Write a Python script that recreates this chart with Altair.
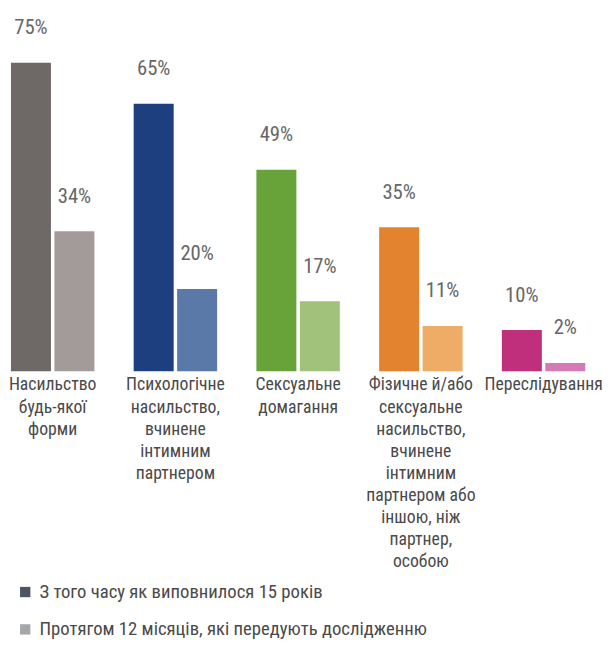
import altair as alt
import pandas as pd

categories = [
    "Насильство будь-якої форми",
    "Психологічне насильство, вчинене інтимним партнером",
    "Сексуальне домагання",
    "Фізичне й/або сексуальне насильство, вчинене інтимним партнером або іншою, ніж партнер, особою",
    "Переслідування",
]
category_lines = [
    "Насильство|будь-якої|форми",
    "Психологічне|насильство,|вчинене|інтимним|партнером",
    "Сексуальне|домагання",
    "Фізичне й/або|сексуальне|насильство,|вчинене|інтимним|партнером або|іншою, ніж|партнер,|особою",
    "Переслідування",
]
series = ["З того часу як виповнилося 15 років", "Протягом 12 місяців, які передують дослідженню"]
since15 = [75, 65, 49, 35, 10]
last12 = [34, 20, 17, 11, 2]
dark_colors = ["#6e6966", "#1d3f7f", "#67a338", "#e3832f", "#c02f7b"]
light_colors = ["#a39b99", "#5a78a8", "#a1c27b", "#eeac67", "#d57ab6"]
legend_colors = ["#4b5661", "#a3a7ab"]

FONT = "Liberation Sans Narrow, Roboto Condensed, DejaVu Sans Condensed, sans-serif"

rows = []
keys, key_colors = [], []
for i, c in enumerate(category_lines):
    for s, vals, cols in ((series[0], since15, dark_colors), (series[1], last12, light_colors)):
        k = f"{i}-{s}"
        rows.append({"cat": c, "series": s, "value": vals[i], "key": k, "label": f"{vals[i]}%"})
        keys.append(k)
        key_colors.append(cols[i])
df = pd.DataFrame(rows)

xenc = alt.X("cat:N", sort=category_lines,
             scale=alt.Scale(paddingInner=0.32, paddingOuter=0),
             axis=alt.Axis(title=None, labelAngle=0, domain=False, ticks=False,
                           labelExpr="split(datum.value, '|')", labelFont=FONT,
                           labelFontSize=18, labelColor="#4a4a4a", labelLineHeight=22.5,
                           labelPadding=5, labelBaseline="top", labelLimit=0))
yenc = alt.Y("value:Q", scale=alt.Scale(domain=[0, 87], nice=False), axis=None)
xoff = alt.XOffset("series:N", sort=series, scale=alt.Scale(paddingInner=0.08))

bars = alt.Chart(df).mark_bar().encode(
    x=xenc, y=yenc, xOffset=xoff,
    color=alt.Color("key:N", scale=alt.Scale(domain=keys, range=key_colors), legend=None),
)
labels = alt.Chart(df).mark_text(font=FONT, fontSize=21, color="#666666", baseline="middle", dy=-35).encode(
    x=xenc, y=yenc, xOffset=xoff, text="label:N")

leg_df = pd.DataFrame({"series": series})
legend_layer = alt.Chart(leg_df).mark_square(opacity=0, size=1).encode(
    color=alt.Color("series:N", sort=series,
                    scale=alt.Scale(domain=series, range=legend_colors),
                    legend=alt.Legend(title=None, orient="none", legendX=5, legendY=579,
                                      direction="vertical", symbolType="square",
                                      symbolSize=110, symbolOpacity=1, symbolStrokeWidth=0,
                                      labelFont=FONT, labelFontSize=19, labelColor="#4a4a4a",
                                      rowPadding=18, labelOffset=5, labelLimit=0)),
)

chart = alt.layer(bars, labels, legend_layer).resolve_scale(color="independent").properties(
    width=584, height=364, padding=0
).configure_view(stroke=None)

chart.save("out.html", embed_options={"renderer": "svg", "actions": False})
